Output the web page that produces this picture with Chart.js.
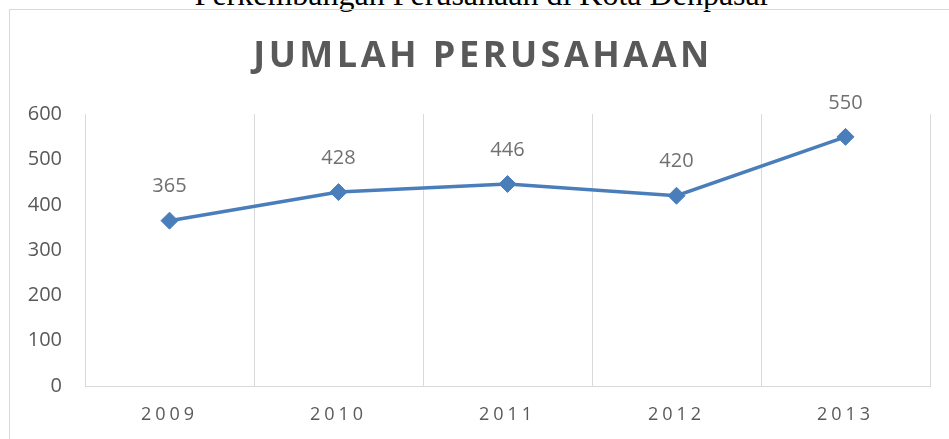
<!DOCTYPE html>
<html>
<head>
<meta charset="utf-8">
<script src="https://cdn.jsdelivr.net/npm/chart.js@4"></script>
<style>
  html, body { margin: 0; padding: 0; background: #fff; overflow: hidden; }
  body { width: 949px; height: 439px; position: relative; }
  #caption {
    position: absolute; left: 0; width: 965px; top: -22px;
    text-align: center; font-family: 'Liberation Serif', serif; font-size: 32px;
    line-height: 32px; color: #000; white-space: nowrap;
  }
  #frame {
    position: absolute; left: 9px; top: 9px; width: 980px; height: 460px;
    border: 1px solid #d9d9d9; box-sizing: border-box;
  }
  #wrap { position: absolute; left: 0; top: 0; width: 949px; height: 439px; }
</style>
</head>
<body>
<div id="caption">Perkembangan Perusahaan di Kota Denpasar</div>
<div id="frame"></div>
<div id="wrap"><canvas id="chart"></canvas></div>
<script>
const years = ['2009', '2010', '2011', '2012', '2013'];
const jumlah = [365, 428, 446, 420, 550];
const yTicks = [0, 100, 200, 300, 400, 500, 600];

const gray = '#595959';
const blue = '#4a7ebb';

// letter spacing for the title and the category labels
const spacing = {
  id: 'spacing',
  afterUpdate(chart) {
    const s = chart.scales.x;
    if (s && !s._spaced) {
      const orig = s.drawLabels.bind(s);
      s.drawLabels = function (area) {
        const c = this.ctx;
        c.save();
        c.letterSpacing = '4px';
        orig(area);
        c.restore();
      };
      s._spaced = true;
    }
    const t = chart.titleBlock;
    if (t && !t._spaced) {
      const origT = t.draw.bind(t);
      t.draw = function () {
        const c = this.ctx;
        c.save();
        c.letterSpacing = '3.5px';
        c.translate(18, 1.5);
        origT();
        c.restore();
      };
      t._spaced = true;
    }
  }
};

// value labels above the points
const valueLabels = {
  id: 'valueLabels',
  afterDatasetsDraw(chart) {
    const ctx = chart.ctx;
    const meta = chart.getDatasetMeta(0);
    ctx.save();
    ctx.font = '20px "Open Sans"';
    ctx.fillStyle = '#707070';
    ctx.textAlign = 'center';
    ctx.textBaseline = 'middle';
    meta.data.forEach((pt, i) => {
      ctx.fillText(String(jumlah[i]), pt.x, pt.y - 34);
    });
    ctx.restore();
  }
};

new Chart(document.getElementById('chart'), {
  type: 'line',
  data: {
    labels: years,
    datasets: [{
      label: 'Jumlah Perusahaan',
      data: jumlah,
      borderColor: blue,
      backgroundColor: blue,
      borderWidth: 3.5,
      tension: 0,
      pointStyle: 'rectRot',
      pointRadius: 8.5,
      pointHoverRadius: 8.5,
      pointBackgroundColor: blue,
      pointBorderColor: blue,
      pointBorderWidth: 1,
    }],
  },
  options: {
    responsive: true,
    maintainAspectRatio: false,
    animation: false,
    layout: { padding: { left: 0, right: 19, top: 0, bottom: 0 } },
    plugins: {
      legend: { display: false },
      tooltip: { enabled: false },
      title: {
        display: true,
        text: 'JUMLAH PERUSAHAAN',
        color: gray,
        font: { family: 'Open Sans', size: 36, weight: 'bold' },
        padding: { top: 34, bottom: 37 },
      },
    },
    scales: {
      x: {
        offset: true,
        grid: { offset: true, color: '#d9d9d9', lineWidth: 1, drawTicks: false },
        border: { color: '#d9d9d9', width: 1 },
        ticks: { color: gray, font: { family: 'Open Sans', size: 18 }, padding: 18 },
        afterFit(s) { s.height = 53; },
      },
      y: {
        min: 0,
        max: 600,
        afterBuildTicks(s) { s.ticks = yTicks.map(v => ({ value: v })); },
        grid: { display: false, drawTicks: false },
        border: { display: false },
        ticks: { color: gray, font: { family: 'Open Sans', size: 20 }, padding: 23 },
        afterFit(s) { s.width = 85; },
      },
    },
  },
  plugins: [spacing, valueLabels],
});
</script>
</body>
</html>
